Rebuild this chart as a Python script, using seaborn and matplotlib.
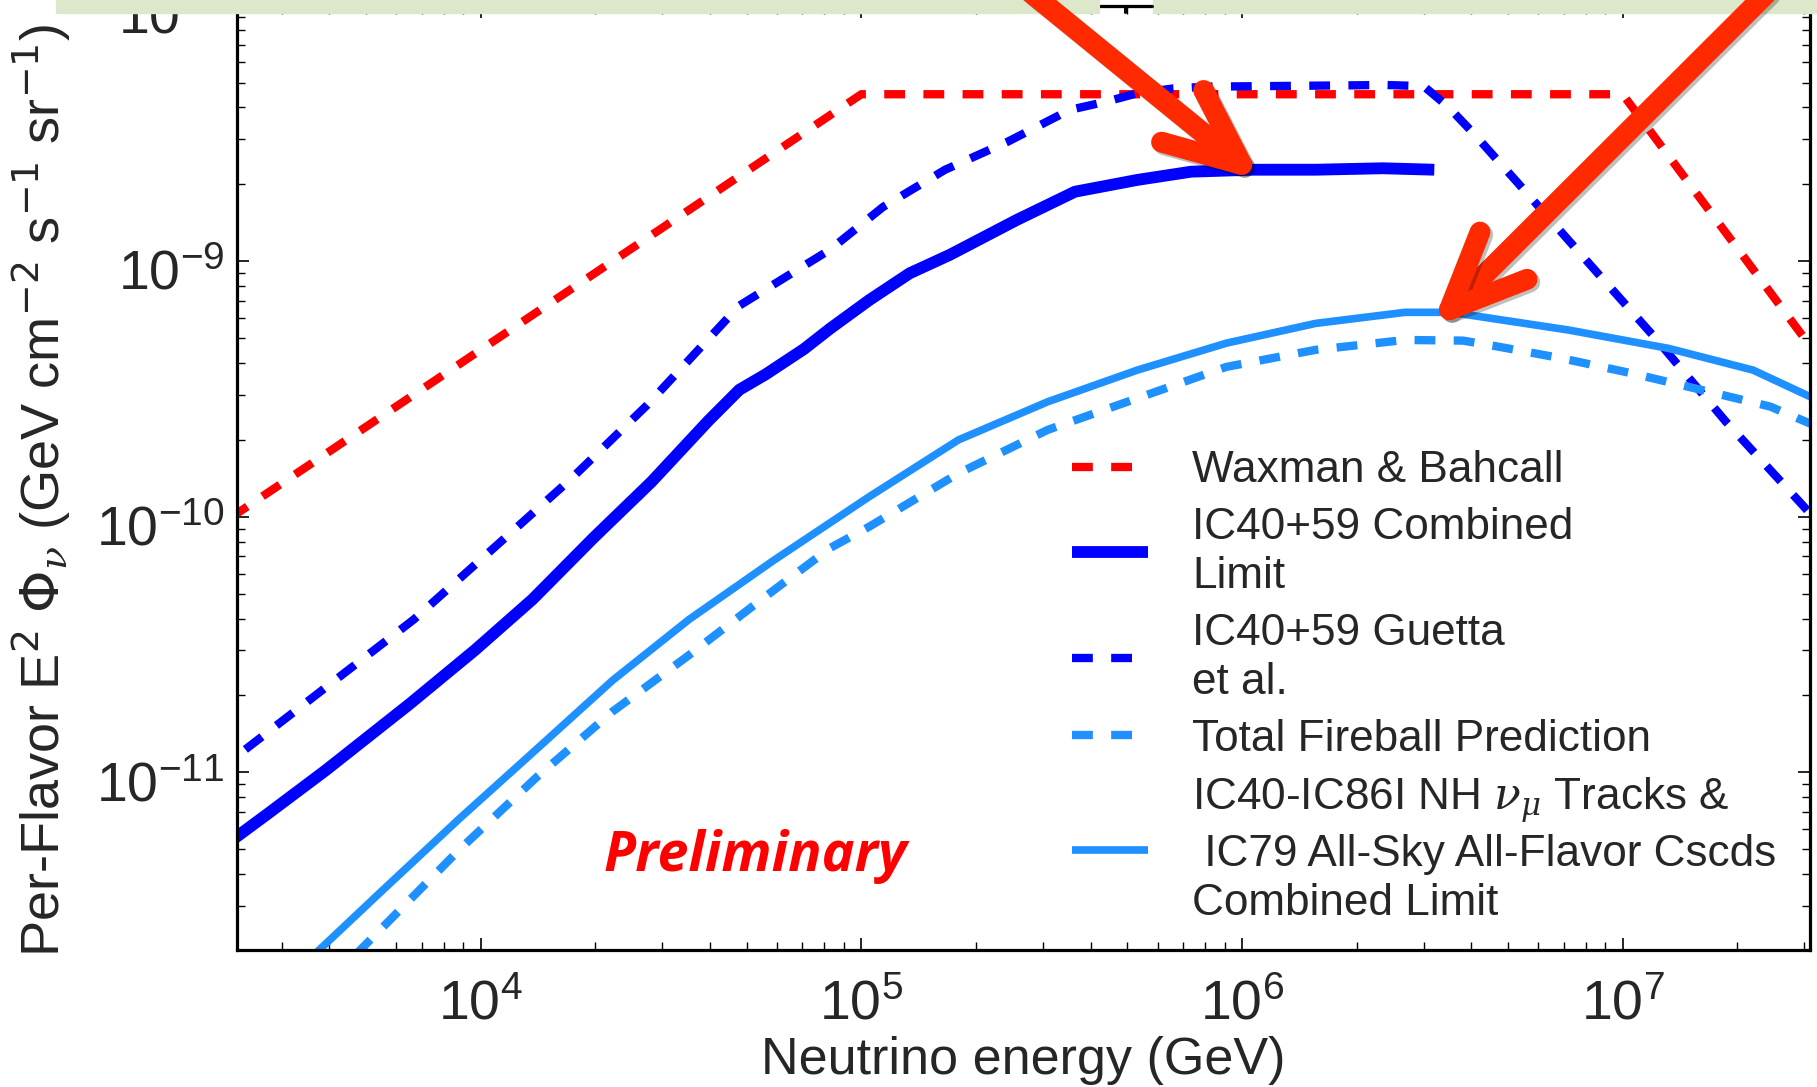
import matplotlib
matplotlib.use("Agg")
import matplotlib.pyplot as plt
import matplotlib.patheffects as pe
from matplotlib.patches import FancyArrowPatch, Rectangle, ArrowStyle
from matplotlib.lines import Line2D
from matplotlib.ticker import LogLocator, NullFormatter
from matplotlib.transforms import ScaledTranslation
import seaborn as sns

# Waxman & Bahcall bound (per flavor)
wb_energy = [1e3, 1e5, 1e7, 1e8]
wb_flux = [4.5e-11, 4.5e-9, 4.5e-9, 4.5e-11]

# IC40+59 combined limit
lim_energy = [2.2e3, 2.77e3, 3.92e3, 6.53e3, 9.66e3, 1.37e4, 1.98e4, 2.81e4, 3.97e4,
              4.78e4, 5.61e4, 7.08e4, 8.28e4, 1.05e5, 1.34e5, 1.71e5, 2.56e5, 3.64e5,
              5.31e5, 7.35e5, 1.07e6, 1.56e6, 2.34e6, 3.2e6]
lim_flux = [5.37e-12, 6.92e-12, 1.02e-11, 1.86e-11, 3.01e-11, 4.76e-11, 8.28e-11, 1.37e-10,
            2.38e-10, 3.14e-10, 3.61e-10, 4.54e-10, 5.45e-10, 7.05e-10, 8.97e-10, 1.06e-9,
            1.45e-9, 1.87e-9, 2.08e-9, 2.24e-9, 2.28e-9, 2.28e-9, 2.31e-9, 2.28e-9]

# IC40+59 Guetta et al.
gue_energy = [2.0e3, 2.41e3, 6.68e3, 1.73e4, 2.74e4, 4.78e4, 8.28e4, 1.14e5, 1.66e5, 2.43e5,
              3.53e5, 4.40e5, 5.31e5, 6.59e5, 8.18e5, 2.40e6, 3.0e6, 3.48e6, 4.06e6, 5.31e6,
              8.15e6, 1.22e7, 1.87e7, 2.89e7, 3.55e7]
gue_flux = [9.9e-12, 1.23e-11, 3.97e-11, 1.41e-10, 2.74e-10, 6.70e-10, 1.11e-9, 1.63e-9,
            2.28e-9, 2.94e-9, 3.91e-9, 4.21e-9, 4.54e-9, 4.74e-9, 4.82e-9, 4.89e-9, 4.84e-9,
            4.02e-9, 3.16e-9, 2.02e-9, 9.82e-10, 4.99e-10, 2.35e-10, 1.16e-10, 8.3e-11]

# Total fireball prediction
fb_energy = [3.98e3, 8.81e3, 1.40e4, 2.22e4, 3.53e4, 5.61e4, 8.28e4, 1.05e5, 1.80e5, 3.09e5,
             5.31e5, 9.10e5, 1.56e6, 2.68e6, 3.81e6, 4.61e6, 6.92e6, 1.06e7, 1.62e7, 2.44e7,
             3.10e7, 3.55e7]
fb_flux = [1.51e-12, 5.0e-12, 9.55e-12, 1.73e-11, 2.88e-11, 4.89e-11, 7.55e-11, 9.16e-11,
           1.48e-10, 2.19e-10, 2.91e-10, 3.86e-10, 4.50e-10, 4.92e-10, 4.89e-10, 4.66e-10,
           4.17e-10, 3.64e-10, 3.13e-10, 2.70e-10, 2.32e-10, 2.14e-10]

# IC40-IC86I NH numu tracks & IC79 cascades combined limit
ic86_energy = [3.16e3, 5.55e3, 8.81e3, 1.40e4, 2.22e4, 3.53e4, 5.89e4, 1.05e5, 1.80e5, 3.09e5,
               5.31e5, 9.10e5, 1.56e6, 2.68e6, 3.51e6, 3.92e6, 7.21e6, 1.32e7, 2.20e7, 3.17e7]
ic86_flux = [1.58e-12, 3.48e-12, 6.61e-12, 1.23e-11, 2.29e-11, 3.97e-11, 6.76e-11, 1.20e-10,
             2.00e-10, 2.82e-10, 3.75e-10, 4.78e-10, 5.71e-10, 6.31e-10, 6.31e-10, 6.17e-10,
             5.38e-10, 4.56e-10, 3.75e-10, 2.91e-10]

W, H = 1817, 1087

sns.set_style("ticks")
plt.rcParams['font.family'] = ['Liberation Sans', 'DejaVu Sans']
plt.rcParams['mathtext.fontset'] = 'custom'
plt.rcParams['mathtext.rm'] = 'DejaVu Sans'
plt.rcParams['mathtext.sf'] = 'DejaVu Sans'
plt.rcParams['mathtext.it'] = 'DejaVu Serif:italic'
plt.rcParams['mathtext.bf'] = 'DejaVu Sans:bold'
plt.rcParams['axes.unicode_minus'] = False

fig = plt.figure(figsize=(W / 100, H / 100), dpi=100)
ax = fig.add_axes([237 / W, 1 - 950 / H, (1810 - 237) / W, (950 - 5.6) / H])
ax.set_xscale('log')
ax.set_yscale('log')

dash = (0, (2.5, 2.2))
sns.lineplot(x=wb_energy, y=wb_flux, ax=ax, color='#ff0000', lw=6, linestyle=dash,
             sort=False, estimator=None, label='Waxman & Bahcall')
sns.lineplot(x=lim_energy, y=lim_flux, ax=ax, color='#0000ff', lw=8.5, solid_capstyle='butt',
             sort=False, estimator=None, label='IC40+59 Combined\nLimit')
sns.lineplot(x=gue_energy, y=gue_flux, ax=ax, color='#0000ff', lw=6, linestyle=dash,
             sort=False, estimator=None, label='IC40+59 Guetta\net al.')
sns.lineplot(x=fb_energy, y=fb_flux, ax=ax, color='#1e90ff', lw=6, linestyle=dash,
             sort=False, estimator=None, label='Total Fireball Prediction')
sns.lineplot(x=ic86_energy, y=ic86_flux, ax=ax, color='#1e90ff', lw=5.5, solid_capstyle='butt',
             sort=False, estimator=None,
             label='IC40-IC86I NH $\\nu_{\\mu}$ Tracks &\n IC79 All-Sky All-Flavor Cscds\nCombined Limit')

ax.set_xlim(2291, 3.105e7)
ax.set_ylim(2.02e-12, 1e-8)

ax.xaxis.set_major_locator(LogLocator(base=10, numticks=20))
ax.xaxis.set_minor_locator(LogLocator(base=10, subs=range(2, 10), numticks=50))
ax.xaxis.set_minor_formatter(NullFormatter())
ax.yaxis.set_major_locator(LogLocator(base=10, numticks=20))
ax.yaxis.set_minor_locator(LogLocator(base=10, subs=range(2, 10), numticks=50))
ax.yaxis.set_minor_formatter(NullFormatter())

ax.tick_params(which='both', direction='in', top=True, right=True, color='black')
ax.tick_params(which='major', length=8.5, width=1.2)
ax.tick_params(which='minor', length=5.5, width=1.0)
ax.tick_params(axis='x', which='major', labelsize=40, pad=21)
ax.tick_params(axis='y', which='major', labelsize=40, pad=9)
for s in ax.spines.values():
    s.set_linewidth(2.3)
    s.set_color('black')

# y tick labels sit a little below their ticks in the reference
fig.canvas.draw()
shift = ScaledTranslation(0, -6 / 72, fig.dpi_scale_trans)
for lab in ax.get_yticklabels():
    lab.set_transform(lab.get_transform() + shift)

ax.set_xlabel('Neutrino energy (GeV)', fontsize=37.5)
ax.set_ylabel('Per-Flavor E$^{2}$ $\\Phi_{\\nu}$ (GeV cm$^{-2}$ s$^{-1}$ sr$^{-1}$)', fontsize=39)
ax.xaxis.set_label_coords(0.5, -0.091)
ax.yaxis.set_label_coords(-0.104, 0.487)

leg = ax.legend(loc='upper left', bbox_to_anchor=(1072 / W, 1 - 450 / H),
                bbox_transform=fig.transFigure, frameon=False, fontsize=31.8,
                handlelength=1.72, handletextpad=1.0, borderpad=0, borderaxespad=0,
                labelspacing=0.36)
for t in leg.get_texts():
    t.set_linespacing(1.25)

ax.text(0.3296, 0.099, 'Preliminary', transform=ax.transAxes, color='#ff0000',
        fontsize=40, family=['Open Sans', 'DejaVu Sans'], weight='bold', style='italic',
        ha='center', va='center')

# slide overlay: green banner strip, stray glyph, red arrows
banner = '#dde7c9'
fig.add_artist(Rectangle((55.6 / W, 1 - 13 / H), (1098.5 - 55.6) / W, 14 / H,
                         transform=fig.transFigure, color=banner, zorder=10))
fig.add_artist(Rectangle((1153 / W, 1 - 13 / H), (W - 1153) / W, 14 / H,
                         transform=fig.transFigure, color=banner, zorder=10))
fig.add_artist(Line2D([1101 / W, 1152 / W], [1 - 5.5 / H, 1 - 5.5 / H],
                      transform=fig.transFigure, color='black', lw=2.2, zorder=11))
fig.add_artist(Line2D([1125 / W, 1125 / W], [1 - 5.5 / H, 1 - 12 / H],
                      transform=fig.transFigure, color='black', lw=2.2, zorder=11))

arrow_style = ArrowStyle('->', head_length=0.55, head_width=0.24)
for start, tip in [((1030, -8), (1262, 181)), ((1768, -8), (1431, 328))]:
    arr = FancyArrowPatch((start[0] / W, 1 - start[1] / H), (tip[0] / W, 1 - tip[1] / H),
                          transform=fig.transFigure, arrowstyle=arrow_style,
                          mutation_scale=100, lw=15, color='#ff2a00',
                          capstyle='round', joinstyle='round', shrinkA=0, shrinkB=0,
                          zorder=12)
    arr.set_path_effects([pe.SimpleLineShadow(offset=(2, -2), alpha=0.25), pe.Normal()])
    fig.add_artist(arr)

fig.savefig('out.png', dpi=100)
